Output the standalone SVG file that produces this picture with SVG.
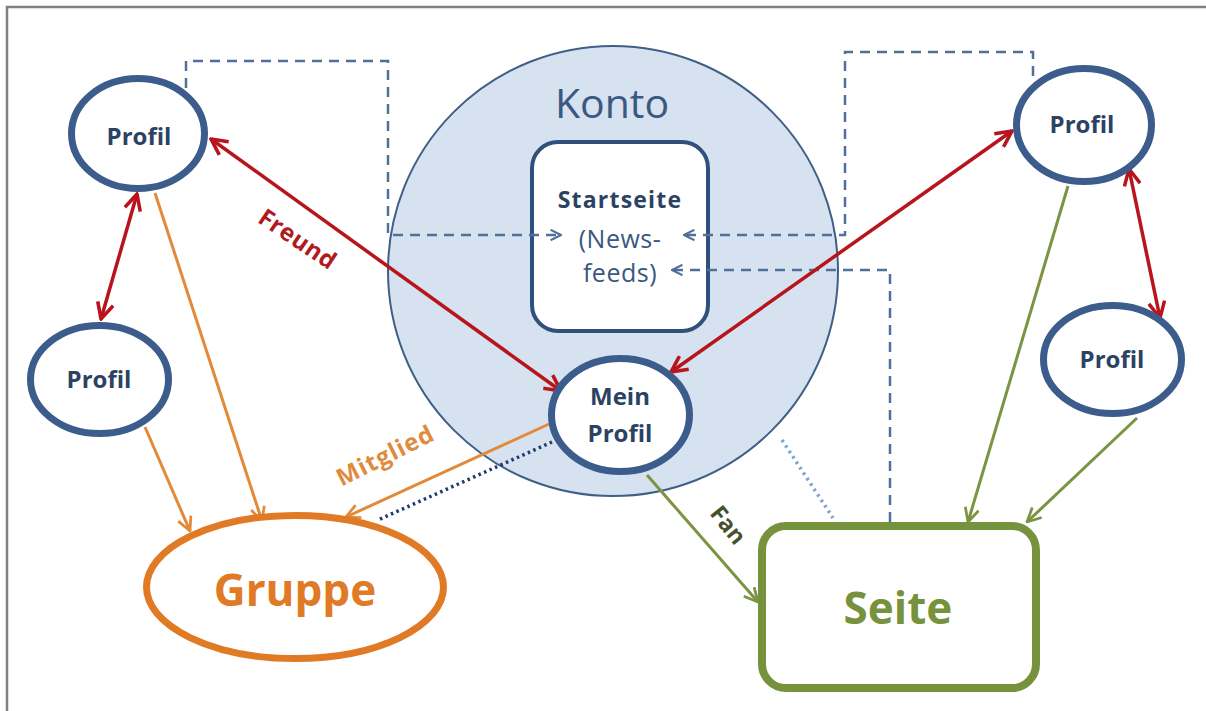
<svg xmlns="http://www.w3.org/2000/svg" width="1206" height="711" viewBox="0 0 1206 711">
<defs>
<style>
.prof{fill:#fff;stroke:#3c5d8c;stroke-width:7}
.lbl{font-family:"Open Sans","Noto Sans",sans-serif;font-weight:bold;font-size:24px;fill:#2b4262;text-anchor:middle}
.red{fill:none;stroke:#b8141c;stroke-width:3.5}
.org{fill:none;stroke:#e38a3a;stroke-width:3}
.grn{fill:none;stroke:#7a9441;stroke-width:3}
.dash{fill:none;stroke:#4f7099;stroke-width:2.5;stroke-dasharray:10 7}
</style>
<marker id="mr" viewBox="0 0 12 12" refX="11" refY="6" markerWidth="5.5" markerHeight="5.5" orient="auto-start-reverse" markerUnits="strokeWidth">
<path d="M1,1 L11,6 L1,11" fill="none" stroke="#b8141c" stroke-width="2.2"/>
</marker>
<marker id="mo" viewBox="0 0 12 12" refX="11" refY="6" markerWidth="5.5" markerHeight="5.5" orient="auto" markerUnits="strokeWidth">
<path d="M1,1 L11,6 L1,11" fill="none" stroke="#e38a3a" stroke-width="2"/>
</marker>
<marker id="mg" viewBox="0 0 12 12" refX="11" refY="6" markerWidth="5.5" markerHeight="5.5" orient="auto" markerUnits="strokeWidth">
<path d="M1,1 L11,6 L1,11" fill="none" stroke="#7a9441" stroke-width="2"/>
</marker>
<marker id="mb" viewBox="0 0 12 12" refX="11" refY="6" markerWidth="5" markerHeight="5" orient="auto" markerUnits="strokeWidth">
<path d="M1,1 L11,6 L1,11" fill="none" stroke="#4f7099" stroke-width="2"/>
</marker>
</defs>
<rect width="1206" height="711" fill="#fff"/>
<path d="M7,711 V7 H1206" fill="none" stroke="#808080" stroke-width="2.5"/>

<g id="konto">
<circle cx="613" cy="271" r="225" fill="#d7e2f0" stroke="#3f5f87" stroke-width="2"/>
<text x="612" y="118" font-family="'Open Sans','Noto Sans',sans-serif" font-size="41" fill="#3b5880" text-anchor="middle">Konto</text>
</g>
<g id="startseite">
<rect x="532" y="142" width="176" height="189" rx="26" fill="#fff" stroke="#2f4f7c" stroke-width="4"/>
<text x="620" y="208" font-family="'Open Sans','Noto Sans',sans-serif" font-weight="bold" font-size="23" letter-spacing="1.2" fill="#2b4262" text-anchor="middle">Startseite</text>
<text x="620" y="248" font-family="'Open Sans','Noto Sans',sans-serif" font-size="25" letter-spacing="0.5" fill="#3b5880" text-anchor="middle">(News-</text>
<text x="620" y="282" font-family="'Open Sans','Noto Sans',sans-serif" font-size="25" letter-spacing="0.5" fill="#3b5880" text-anchor="middle">feeds)</text>
</g>

<g id="connectors">
<path class="dash" d="M186,88 V61 H388 V235 H561" marker-end="url(#mb)"/>
<path class="dash" d="M1033,76 V52 H845 V235 H684" marker-end="url(#mb)"/>
<path class="dash" d="M890,522 V270 H672" marker-end="url(#mb)"/>
<path d="M782,440 L833,518" fill="none" stroke="#7aa3d0" stroke-width="3.5" stroke-dasharray="2.5 4"/>
<path d="M552,442 L378,520" fill="none" stroke="#1f3a6a" stroke-width="3.5" stroke-dasharray="2.5 3.5"/>
<path class="red" d="M211,139 L561,391" marker-start="url(#mr)" marker-end="url(#mr)"/>
<path class="red" d="M137,194 L101,319" marker-start="url(#mr)" marker-end="url(#mr)"/>
<path class="red" d="M1012,131 L671,372" marker-start="url(#mr)" marker-end="url(#mr)"/>
<path class="red" d="M1129,169 L1160,318" marker-start="url(#mr)" marker-end="url(#mr)"/>
<path class="org" d="M155,193 L262,521" marker-end="url(#mo)"/>
<path class="org" d="M145,427 L190,531" marker-end="url(#mo)"/>
<path class="org" d="M549,424 L346,517" marker-end="url(#mo)"/>
<path class="grn" d="M647,475 L758,602" marker-end="url(#mg)"/>
<path class="grn" d="M1068,186 L968,522" marker-end="url(#mg)"/>
<path class="grn" d="M1137,418 L1027,522" marker-end="url(#mg)"/>
<text transform="translate(293,246) rotate(34)" font-family="'Open Sans','Noto Sans',sans-serif" font-weight="bold" font-size="24" letter-spacing="0.5" fill="#b01a1f" text-anchor="middle">Freund</text>
<text transform="translate(389,463) rotate(-26.5)" font-family="'Open Sans','Noto Sans',sans-serif" font-weight="bold" font-size="24" letter-spacing="1" fill="#e08a3c" text-anchor="middle">Mitglied</text>
<text transform="translate(722,530) rotate(51)" font-family="'Open Sans','Noto Sans',sans-serif" font-weight="bold" font-size="23" fill="#45502f" text-anchor="middle">Fan</text>
</g>

<g id="profil-tl">
<ellipse class="prof" cx="138" cy="133.5" rx="66.5" ry="55"/>
<text class="lbl" x="139" y="145">Profil</text>
</g>
<g id="profil-ml">
<ellipse class="prof" cx="99.5" cy="379.5" rx="69" ry="54"/>
<text class="lbl" x="99" y="388">Profil</text>
</g>
<g id="mein-profil">
<ellipse class="prof" cx="620.5" cy="415" rx="69" ry="56.5"/>
<text class="lbl" x="620" y="405">Mein</text>
<text class="lbl" x="620" y="442">Profil</text>
</g>
<g id="profil-tr">
<ellipse class="prof" cx="1084" cy="125" rx="67.5" ry="56.5"/>
<text class="lbl" x="1082" y="133">Profil</text>
</g>
<g id="profil-rm">
<ellipse class="prof" cx="1112.5" cy="359.5" rx="69" ry="54"/>
<text class="lbl" x="1112" y="368">Profil</text>
</g>
<g id="gruppe">
<ellipse cx="295" cy="587" rx="148.5" ry="71.5" fill="#fff" stroke="#e07a25" stroke-width="7"/>
<text x="295" y="606" font-family="'Open Sans','Noto Sans',sans-serif" font-weight="bold" font-size="44" fill="#e07a25" text-anchor="middle">Gruppe</text>
</g>
<g id="seite">
<rect x="762" y="526" width="274" height="162" rx="24" fill="#fff" stroke="#77923c" stroke-width="8"/>
<text x="898" y="624" font-family="'Open Sans','Noto Sans',sans-serif" font-weight="bold" font-size="44" fill="#77923c" text-anchor="middle">Seite</text>
</g>
</svg>
